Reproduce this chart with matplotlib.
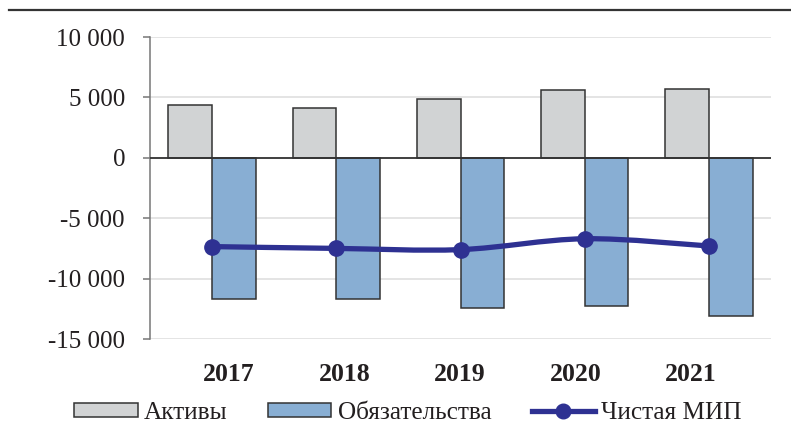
import matplotlib
matplotlib.use("Agg")
import matplotlib.pyplot as plt
import numpy as np
from matplotlib.path import Path
from matplotlib.patches import PathPatch, Patch
from matplotlib.lines import Line2D
from matplotlib.ticker import FuncFormatter, MultipleLocator

years = ["2017", "2018", "2019", "2020", "2021"]
assets = [4400, 4150, 4850, 5600, 5700]
liabilities = [-11650, -11650, -12400, -12300, -13100]
net_mip = [-7350, -7500, -7600, -6700, -7300]

series_names = ["Активы", "Обязательства", "Чистая МИП"]

plt.rcParams['font.family'] = ['Liberation Serif', 'DejaVu Serif']

c_gray = "#d1d3d4"
c_blue = "#88aed3"
c_line = "#2e3192"
c_edge = "#333333"

fig = plt.figure(figsize=(7.91, 4.44), dpi=100)
ax = fig.add_axes([150/791, 1 - 339/444, (771-150)/791, (339-37)/444])

x = np.arange(len(years))
w = 0.352
ax.bar(x - w/2, assets, width=w, color=c_gray, edgecolor=c_edge, linewidth=1.1, zorder=3)
ax.bar(x + w/2, liabilities, width=w, color=c_blue, edgecolor=c_edge, linewidth=1.1, zorder=3)

# smoothed line (Bezier, Catmull-Rom style like spreadsheet smoothing)
pts = np.column_stack([x.astype(float), np.array(net_mip, dtype=float)])
verts = [tuple(pts[0])]
codes = [Path.MOVETO]
n = len(pts)
for i in range(n - 1):
    p0 = pts[i - 1] if i > 0 else pts[i]
    p1 = pts[i]
    p2 = pts[i + 1]
    p3 = pts[i + 2] if i + 2 < n else pts[i + 1]
    c1 = p1 + (p2 - p0) / 6.0
    c2 = p2 - (p3 - p1) / 6.0
    verts += [tuple(c1), tuple(c2), tuple(p2)]
    codes += [Path.CURVE4] * 3
ax.add_patch(PathPatch(Path(verts, codes), facecolor="none", edgecolor=c_line,
                       linewidth=3.8, capstyle="round", zorder=4))
ax.plot(x, net_mip, linestyle="none", marker="o", markersize=11, color=c_line, zorder=5)

ax.set_xlim(-0.5, len(years) - 0.5)
ax.set_ylim(-15000, 10000)
ax.yaxis.set_major_locator(MultipleLocator(5000))
ax.yaxis.set_major_formatter(FuncFormatter(lambda v, p: f"{int(v):,}".replace(",", " ")))
ax.grid(axis="y", color="#e4e4e4", linewidth=1.4, zorder=0)
ax.set_axisbelow(True)
ax.axhline(0, color=c_edge, linewidth=1.3, zorder=3.5)

for s in ["top", "right", "bottom"]:
    ax.spines[s].set_visible(False)
ax.spines["left"].set_color("#777777")
ax.spines["left"].set_linewidth(1.1)

ax.set_xticks([])
ax.tick_params(axis="y", length=5, width=1.1, color="#777777", labelsize=18, pad=13,
               labelcolor="#231f20")

# year labels (in the source they sit on a slightly narrower spacing than the bars)
ax2 = ax.twiny()
ax2.set_xlim(-0.684, 4.693)
ax2.xaxis.set_ticks_position("bottom")
ax2.xaxis.set_label_position("bottom")
ax2.set_xticks(x)
ax2.set_xticklabels(years, fontweight="bold", fontsize=18.5, color="#231f20")
ax2.tick_params(axis="x", length=0, pad=17)
for s in ax2.spines.values():
    s.set_visible(False)

handles = [Patch(facecolor=c_gray, edgecolor=c_edge, linewidth=1.1),
           Patch(facecolor=c_blue, edgecolor=c_edge, linewidth=1.1),
           Line2D([0], [0], color=c_line, linewidth=3.8, marker="o", markersize=10.5)]
leg = fig.legend(handles, series_names, loc="center", bbox_to_anchor=(408/791, 1 - 413/444),
                 ncol=3, frameon=False, fontsize=18.2, handlelength=2.5, handleheight=0.52,
                 handletextpad=0.25, columnspacing=1.6, borderaxespad=0)
for t in leg.get_texts():
    t.set_color("#231f20")

fig.add_artist(Line2D([9/791, 1.0], [1 - 10/444, 1 - 10/444], color="#333333", linewidth=1.6))

fig.savefig("out.png", dpi=100)
